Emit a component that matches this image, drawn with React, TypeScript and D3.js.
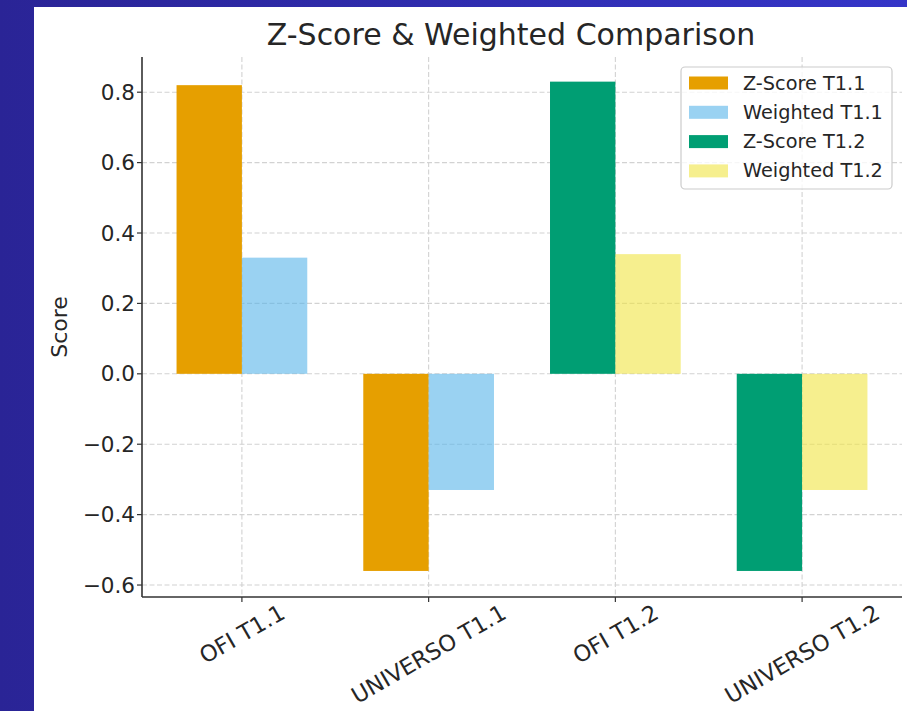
import { useEffect, useRef } from "react";
import * as d3 from "d3";

// chart data
const categories = ["OFI T1.1", "UNIVERSO T1.1", "OFI T1.2", "UNIVERSO T1.2"];
const seriesNames = ["Z-Score T1.1", "Weighted T1.1", "Z-Score T1.2", "Weighted T1.2"];
const zScoreT11 = [0.82, -0.56, null, null];
const weightedT11 = [0.33, -0.33, null, null];
const zScoreT12 = [null, null, 0.83, -0.56];
const weightedT12 = [null, null, 0.34, -0.33];
const yTicks = [-0.6, -0.4, -0.2, 0.0, 0.2, 0.4, 0.6, 0.8];

const W = 907;
const H = 711;
const FONT = "DejaVu Sans, Liberation Sans, sans-serif";

const App = () => {
    const ref = useRef<SVGSVGElement>(null);

    useEffect(() => {
        const svg = d3.select(ref.current);
        svg.selectAll("*").remove();

        const series = [
            { name: seriesNames[0], values: zScoreT11, color: "#E69F00", opacity: 1, side: -1 },
            { name: seriesNames[1], values: weightedT11, color: "#56B4E9", opacity: 0.6, side: 1 },
            { name: seriesNames[2], values: zScoreT12, color: "#009E73", opacity: 1, side: -1 },
            { name: seriesNames[3], values: weightedT12, color: "#F0E442", opacity: 0.6, side: 1 },
        ];

        // blue frame around the white figure
        const defs = svg.append("defs");
        const grad = defs.append("linearGradient").attr("id", "frame").attr("x1", 0).attr("x2", 1);
        grad.append("stop").attr("offset", 0).attr("stop-color", "#2a2496");
        grad.append("stop").attr("offset", 1).attr("stop-color", "#3535c8");
        svg.append("rect").attr("width", W).attr("height", H).attr("fill", "url(#frame)");
        svg.append("rect").attr("x", 34).attr("y", 7).attr("width", W - 34).attr("height", H - 7).attr("fill", "#ffffff");

        const left = 142, right = 902, top = 57, bottom = 597;

        const x = d3.scalePoint<string>().domain(categories).range([left, right]).padding(0.535);
        const barW = x.step() * 0.35;
        const y = d3.scaleLinear().domain([-0.634, 0.9]).range([bottom, top]);

        const g = svg.append("g");

        // grid
        g.selectAll(".gy").data(yTicks).enter().append("line")
            .attr("x1", left).attr("x2", right)
            .attr("y1", (d) => y(d)).attr("y2", (d) => y(d))
            .attr("stroke", "#d2d2d2").attr("stroke-width", 1.1).attr("stroke-dasharray", "5,2.5");
        g.selectAll(".gx").data(categories).enter().append("line")
            .attr("x1", (d) => x(d)!).attr("x2", (d) => x(d)!)
            .attr("y1", top).attr("y2", bottom)
            .attr("stroke", "#d2d2d2").attr("stroke-width", 1.1).attr("stroke-dasharray", "5,2.5");

        // bars
        series.forEach((s) => {
            const rows = categories
                .map((c, i) => ({ c, v: s.values[i] }))
                .filter((r) => r.v !== null) as { c: string; v: number }[];
            g.selectAll(null).data(rows).enter().append("rect")
                .attr("x", (d) => (s.side < 0 ? x(d.c)! - barW : x(d.c)!))
                .attr("width", barW)
                .attr("y", (d) => y(Math.max(0, d.v)))
                .attr("height", (d) => Math.abs(y(d.v) - y(0)))
                .attr("fill", s.color)
                .attr("fill-opacity", s.opacity);
        });

        // spines
        g.append("line").attr("x1", left).attr("x2", left).attr("y1", top).attr("y2", bottom)
            .attr("stroke", "#333").attr("stroke-width", 1.6);
        g.append("line").attr("x1", left).attr("x2", right).attr("y1", bottom).attr("y2", bottom)
            .attr("stroke", "#333").attr("stroke-width", 1.6);

        // y ticks
        const fmt = (v: number) => d3.format(".1f")(v).replace("-", "\u2212");
        yTicks.forEach((t) => {
            g.append("line").attr("x1", left - 5).attr("x2", left).attr("y1", y(t)).attr("y2", y(t))
                .attr("stroke", "#333").attr("stroke-width", 1.2);
            g.append("text").attr("x", 135).attr("y", y(t))
                .attr("text-anchor", "end").attr("dominant-baseline", "central")
                .attr("font-family", FONT).attr("font-size", 21.5).attr("fill", "#262626")
                .text(fmt(t));
        });

        // x ticks, rotated labels
        categories.forEach((c) => {
            const cx = x(c)!;
            g.append("line").attr("x1", cx).attr("x2", cx).attr("y1", bottom).attr("y2", bottom + 5)
                .attr("stroke", "#333").attr("stroke-width", 1.2);
            const label = g.append("text")
                .attr("text-anchor", "middle").attr("dominant-baseline", "central")
                .attr("font-family", FONT).attr("font-size", 22.5).attr("fill", "#262626")
                .text(c);
            const w = (label.node() as SVGTextElement).getComputedTextLength();
            const cy = 600 + (w * 0.5 + 24 * 0.866) / 2;
            label.attr("transform", `translate(${cx},${cy}) rotate(-30)`);
        });

        // y label
        g.append("text")
            .attr("transform", `translate(59,${(top + bottom) / 2}) rotate(-90)`)
            .attr("text-anchor", "middle").attr("dominant-baseline", "central")
            .attr("font-family", FONT).attr("font-size", 22).attr("fill", "#262626")
            .text("Score");

        // title
        svg.append("text").attr("x", 511).attr("y", 45)
            .attr("text-anchor", "middle")
            .attr("font-family", FONT).attr("font-size", 30).attr("fill", "#262626")
            .text("Z-Score & Weighted Comparison");

        // legend
        const lg = svg.append("g");
        lg.append("rect").attr("x", 681).attr("y", 67).attr("width", 211).attr("height", 122)
            .attr("rx", 4).attr("fill", "#ffffff").attr("fill-opacity", 0.8)
            .attr("stroke", "#cccccc").attr("stroke-width", 1.2);
        series.forEach((s, i) => {
            const cy = 83 + i * 29.3;
            lg.append("rect").attr("x", 689).attr("y", cy - 6.5).attr("width", 39).attr("height", 13)
                .attr("fill", s.color).attr("fill-opacity", s.opacity);
            lg.append("text").attr("x", 743).attr("y", cy)
                .attr("dominant-baseline", "central")
                .attr("font-family", FONT).attr("font-size", 19.3).attr("fill", "#262626")
                .text(s.name);
        });
    }, []);

    return (
        <svg
            ref={ref}
            width={W}
            height={H}
            style={{ position: "absolute", left: 0, top: 0, display: "block" }}
        />
    );
};

export default App;
